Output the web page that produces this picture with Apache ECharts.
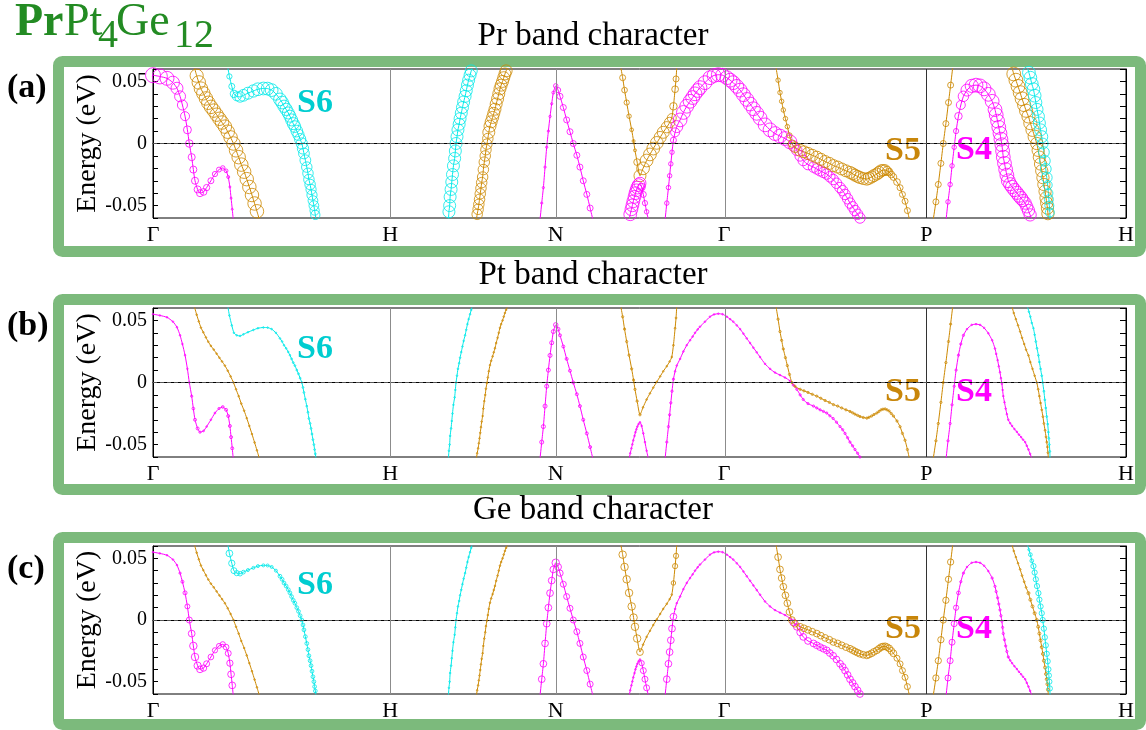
<!DOCTYPE html>
<html>
<head>
<meta charset="utf-8">
<script src="https://cdn.jsdelivr.net/npm/echarts@6.0.0/dist/echarts.min.js"></script>
<style>
  html, body { margin: 0; padding: 0; background: #fff; }
  #chart { width: 1146px; height: 730px; }
</style>
</head>
<body>
<div id="chart"></div>
<script>
// k-path (units of 2pi/a) and labels
const kTicks = [0, 1.0, 1.697, 2.407, 3.259, 4.1];
const kLabels = ['Γ', 'H', 'N', 'Γ', 'P', 'H'];
const panelTitles = ['Pr band character', 'Pt band character', 'Ge band character'];
const panelTags = ['(a)', '(b)', '(c)'];
const yName = 'Energy (eV)';

const MAG = '#ff00ff', GOLD = '#cc8800', CYAN = '#00e8e8';

// bands: [k, E(eV)]
const m1 = [[0,0.055],[0.029,0.054],[0.059,0.0525],[0.084,0.049],[0.101,0.0445],[0.114,0.038],[0.124,0.031],[0.135,0.022],[0.145,0.011],[0.153,0],[0.163,-0.011],[0.170,-0.021],[0.177,-0.030],[0.188,-0.037],[0.198,-0.040],[0.213,-0.039],[0.226,-0.0355],[0.244,-0.030],[0.261,-0.0246],[0.278,-0.021],[0.294,-0.0197],[0.308,-0.022],[0.317,-0.027],[0.324,-0.035],[0.329,-0.044],[0.334,-0.053],[0.338,-0.061]];
const g1 = [[0.174,0.0615],[0.184,0.0546],[0.193,0.0492],[0.202,0.0442],[0.212,0.0404],[0.223,0.0363],[0.233,0.0328],[0.244,0.0295],[0.256,0.0265],[0.268,0.0232],[0.280,0.0199],[0.291,0.0169],[0.303,0.0136],[0.315,0.0095],[0.327,0.0049],[0.339,0],[0.350,-0.0055],[0.361,-0.011],[0.372,-0.017],[0.384,-0.0227],[0.395,-0.0287],[0.406,-0.035],[0.417,-0.0415],[0.428,-0.0483],[0.438,-0.0546],[0.448,-0.061]];
const c1 = [[0.315,0.0615],[0.322,0.054],[0.332,0.046],[0.341,0.040],[0.353,0.038],[0.367,0.0375],[0.381,0.0388],[0.400,0.0405],[0.423,0.0423],[0.442,0.0437],[0.465,0.0443],[0.483,0.0442],[0.500,0.043],[0.518,0.040],[0.535,0.0355],[0.544,0.033],[0.552,0.030],[0.561,0.0275],[0.570,0.0246],[0.577,0.022],[0.584,0.019],[0.591,0.016],[0.598,0.0136],[0.606,0.010],[0.613,0.007],[0.620,0.0035],[0.627,0],[0.632,-0.004],[0.636,-0.008],[0.642,-0.0135],[0.648,-0.019],[0.653,-0.024],[0.657,-0.029],[0.662,-0.033],[0.666,-0.037],[0.670,-0.0415],[0.674,-0.046],[0.678,-0.050],[0.681,-0.054],[0.684,-0.0575],[0.687,-0.061]];
const c2 = [[1.245,-0.061],[1.247,-0.055],[1.250,-0.050],[1.252,-0.043],[1.256,-0.037],[1.259,-0.031],[1.262,-0.025],[1.266,-0.018],[1.271,-0.012],[1.274,-0.006],[1.277,0],[1.281,0.0055],[1.285,0.011],[1.290,0.0155],[1.294,0.020],[1.299,0.0245],[1.304,0.029],[1.309,0.0335],[1.315,0.038],[1.320,0.0425],[1.325,0.047],[1.330,0.051],[1.336,0.055],[1.341,0.0585],[1.346,0.062]];
const g2 = [[1.363,-0.061],[1.366,-0.057],[1.370,-0.053],[1.373,-0.049],[1.376,-0.045],[1.379,-0.0405],[1.382,-0.036],[1.385,-0.0315],[1.389,-0.027],[1.392,-0.021],[1.396,-0.015],[1.400,-0.010],[1.403,-0.005],[1.407,-0.0005],[1.411,0.004],[1.415,0.009],[1.420,0.014],[1.425,0.0175],[1.431,0.021],[1.436,0.0243],[1.441,0.0276],[1.446,0.0318],[1.452,0.036],[1.457,0.040],[1.462,0.044],[1.467,0.047],[1.473,0.050],[1.478,0.053],[1.483,0.056],[1.488,0.0585],[1.494,0.061]];
const m2 = [[1.631,-0.061],[1.638,-0.048],[1.645,-0.0355],[1.652,-0.019],[1.659,-0.003],[1.666,0.010],[1.673,0.0218],[1.680,0.032],[1.687,0.041],[1.697,0.0464],[1.707,0.043],[1.715,0.038],[1.729,0.029],[1.743,0.019],[1.757,0.0095],[1.771,0],[1.786,-0.0095],[1.799,-0.019],[1.813,-0.030],[1.828,-0.041],[1.842,-0.052],[1.853,-0.061]];
const g3 = [[1.971,0.0615],[1.979,0.053],[1.987,0.043],[1.996,0.033],[2.006,0.022],[2.017,0.011],[2.025,0.002],[2.031,-0.0055],[2.040,-0.015],[2.052,-0.026],[2.065,-0.020],[2.080,-0.0137],[2.094,-0.0088],[2.108,-0.0041],[2.123,0.0005],[2.137,0.0049],[2.150,0.009],[2.165,0.0131],[2.177,0.0169],[2.186,0.0205],[2.193,0.030],[2.200,0.0437],[2.204,0.052],[2.207,0.0615]];
const m3 = [[2.007,-0.061],[2.011,-0.057],[2.016,-0.053],[2.020,-0.0498],[2.024,-0.0465],[2.029,-0.043],[2.033,-0.040],[2.037,-0.0377],[2.041,-0.0355],[2.046,-0.0335],[2.052,-0.032],[2.059,-0.035],[2.066,-0.041],[2.073,-0.048],[2.080,-0.055],[2.087,-0.061]];
const m4 = [[2.158,-0.061],[2.165,-0.048],[2.172,-0.0355],[2.177,-0.026],[2.182,-0.0164],[2.187,-0.007],[2.193,0.0027],[2.200,0.009],[2.207,0.0136],[2.221,0.019],[2.235,0.025],[2.249,0.030],[2.263,0.034],[2.274,0.037],[2.284,0.040],[2.295,0.0427],[2.305,0.045],[2.326,0.049],[2.347,0.053],[2.364,0.0548],[2.382,0.0554],[2.400,0.055],[2.418,0.053],[2.432,0.051],[2.445,0.049],[2.460,0.046],[2.474,0.043],[2.488,0.0393],[2.502,0.0355],[2.516,0.0318],[2.530,0.028],[2.544,0.0243],[2.558,0.0205],[2.579,0.015],[2.600,0.011],[2.621,0.008],[2.642,0.006],[2.663,0.004],[2.684,0.0013],[2.698,-0.002],[2.713,-0.0055],[2.727,-0.010],[2.740,-0.0137],[2.760,-0.017],[2.783,-0.019],[2.797,-0.0205],[2.811,-0.022],[2.825,-0.0233],[2.839,-0.0246],[2.852,-0.0268],[2.866,-0.029],[2.880,-0.032],[2.895,-0.0355],[2.906,-0.038],[2.916,-0.041],[2.927,-0.0445],[2.937,-0.048],[2.948,-0.051],[2.958,-0.054],[2.969,-0.057],[2.979,-0.060],[2.986,-0.062]];
const g4 = [[2.625,0.0615],[2.634,0.051],[2.642,0.041],[2.649,0.034],[2.656,0.027],[2.665,0.020],[2.673,0.0136],[2.682,0.0065],[2.692,0],[2.705,-0.003],[2.727,-0.0055],[2.743,-0.0067],[2.760,-0.008],[2.778,-0.0095],[2.797,-0.011],[2.814,-0.0127],[2.832,-0.0145],[2.850,-0.016],[2.867,-0.0178],[2.885,-0.019],[2.902,-0.0205],[2.920,-0.022],[2.937,-0.0233],[2.948,-0.0244],[2.958,-0.0255],[2.969,-0.0265],[2.979,-0.0274],[2.993,-0.0282],[3.008,-0.0287],[3.017,-0.028],[3.028,-0.027],[3.038,-0.0258],[3.050,-0.0246],[3.059,-0.0233],[3.068,-0.022],[3.076,-0.0215],[3.085,-0.0213],[3.093,-0.022],[3.102,-0.023],[3.111,-0.025],[3.120,-0.027],[3.135,-0.031],[3.148,-0.0356],[3.158,-0.041],[3.169,-0.0465],[3.179,-0.054],[3.187,-0.061]];
const g5 = [[3.288,-0.061],[3.299,-0.047],[3.309,-0.033],[3.320,-0.016],[3.330,0],[3.341,0.016],[3.352,0.033],[3.361,0.047],[3.370,0.0615]];
const m5 = [[3.342,-0.061],[3.350,-0.047],[3.359,-0.033],[3.367,-0.018],[3.376,-0.003],[3.384,0.010],[3.394,0.022],[3.404,0.031],[3.415,0.038],[3.430,0.043],[3.450,0.0464],[3.468,0.047],[3.485,0.0464],[3.502,0.044],[3.520,0.0396],[3.536,0.034],[3.548,0.0273],[3.553,0.023],[3.559,0.018],[3.564,0.013],[3.569,0.0082],[3.573,0.0035],[3.577,-0.001],[3.580,-0.006],[3.583,-0.011],[3.588,-0.016],[3.593,-0.021],[3.598,-0.0255],[3.604,-0.030],[3.612,-0.0328],[3.620,-0.035],[3.630,-0.0375],[3.640,-0.0397],[3.649,-0.042],[3.658,-0.044],[3.666,-0.046],[3.675,-0.048],[3.682,-0.051],[3.689,-0.054],[3.696,-0.0575],[3.703,-0.061]];
const g6 = [[3.619,0.0615],[3.627,0.056],[3.636,0.051],[3.645,0.046],[3.654,0.041],[3.662,0.036],[3.671,0.031],[3.679,0.0264],[3.689,0.0218],[3.697,0.0164],[3.706,0.011],[3.715,0.0055],[3.724,0],[3.730,-0.0055],[3.735,-0.011],[3.740,-0.0165],[3.745,-0.022],[3.750,-0.0275],[3.754,-0.033],[3.759,-0.0385],[3.763,-0.0438],[3.766,-0.048],[3.769,-0.052],[3.771,-0.0565],[3.773,-0.061]];
const c3 = [[3.684,0.0615],[3.691,0.057],[3.697,0.053],[3.703,0.048],[3.710,0.0437],[3.715,0.0385],[3.720,0.033],[3.725,0.0275],[3.731,0.0218],[3.735,0.0165],[3.740,0.011],[3.745,0.0055],[3.749,0],[3.754,-0.007],[3.758,-0.014],[3.762,-0.0205],[3.766,-0.0274],[3.770,-0.0335],[3.773,-0.040],[3.775,-0.045],[3.777,-0.050],[3.779,-0.0555],[3.780,-0.061]];

// band character weights (0..1) per point; [n, w] = n points of weight w
// A = Pr, B = Pt, C = Ge
const m1A = [1,1,.93,.87,.8,.73,.67,.6,.53,.5,.47,.47,.47,.47,.47,.45,.42,.4,.35,.33,.3,.25,.2,.13,.13,.13,.13];
const m1B = [[7,.05],.08,.1,.12,.15,.18,.2,.2,.15,.12,.1,.1,.12,.15,.18,[7,.2]];
const m1C = [.07,.07,.07,.07,.1,.15,.2,.27,.33,.4,.45,.5,.5,.48,.45,.42,.4,.38,.35,.33,.35,.38,.4,.42,.45,.45,.45];
const g1A = [.85,.88,[24,.9]];
const g1B = [[26,.05]];
const g1C = [[16,.05],[10,.1]];
const c1A = [.35,.35,.4,.5,.6,.7,.78,.8,.82,[6,.85],.85,.82,.82,.8,.8,.8,.8,.78,.78,.75,.75,.75,.75,.72,.72,.7,.7,.7,.7,.68,.68,.65,.65,.62,.62,.6,.6];
const c1B = [[20,.05],[21,.12]];
const c1C = [.45,.45,.42,.4,.35,.3,.25,[7,.2],[27,.25]];
const c2A = [[25,.8]];
const c2B = [[25,.05]];
const c2C = [[25,.05]];
const g2A = [[15,.7],[16,.8]];
const g2B = [[31,.05]];
const g2C = [[31,.05]];
const m2A = [[8,.15],.2,.3,.35,[11,.4]];
const m2B = [[9,.27],.3,.25,[11,.2]];
const m2C = [[9,.45],.5,.45,.42,[10,.4]];
const g3A = [.4,.4,.38,.35,.3,.25,.2,.2,.45,.8,.85,.85,.85,.85,.85,.8,.8,.75,.7,.6,.5,.45,.4,.4];
const g3B = [[10,.15],[10,.05],[4,.12]];
const g3C = [[9,.5],.45,.1,[8,.07],.1,.3,.35,.35,.35];
const m3A = [[10,.85],.8,.5,.4,.35,.3,.3];
const m3B = [[16,.1]];
const m3C = [[10,.07],.1,.35,.4,.4,.4,.4];
const m4A = [[6,.3],.4,.6,.8,[30,.92],[23,.7]];
const m4B = [[7,.15],[32,.05],[23,.15]];
const m4C = [[7,.45],.1,[31,.07],[23,.45]];
const g4A = [[7,.3],.35,.5,.7,[25,.8],.75,.7,.6,.5,[3,.45],[5,.4]];
const g4B = [[47,.15]];
const g4C = [[41,.45],[6,.4]];
const g5A = [[9,.4]];
const g5B = [[9,.15]];
const g5C = [[9,.42]];
const m5A = [[5,.3],.35,.5,.6,.7,.8,.88,[18,.92],[6,.88],[6,.82]];
const m5B = [[9,.15],[32,.05]];
const m5C = [[5,.4],.35,.25,[2,.15],[6,.07],[14,.15],[12,.07]];
const g6A = [[6,.92],[6,.88],[13,.82]];
const g6B = [[13,.05],[12,.12]];
const g6C = [[4,.05],[4,.12],[17,.2]];
const c3A = [[6,.85],[6,.8],[5,.72],[6,.6]];
const c3B = [[6,.05],[17,.12]];
const c3C = [[2,.15],[2,.25],[19,.35]];

const bands = [
  [m1, MAG, [m1A, m1B, m1C]], [g1, GOLD, [g1A, g1B, g1C]], [c1, CYAN, [c1A, c1B, c1C]],
  [c2, CYAN, [c2A, c2B, c2C]], [g2, GOLD, [g2A, g2B, g2C]], [m2, MAG, [m2A, m2B, m2C]],
  [g3, GOLD, [g3A, g3B, g3C]], [m3, MAG, [m3A, m3B, m3C]], [m4, MAG, [m4A, m4B, m4C]],
  [g4, GOLD, [g4A, g4B, g4C]], [g5, GOLD, [g5A, g5B, g5C]], [m5, MAG, [m5A, m5B, m5C]],
  [g6, GOLD, [g6A, g6B, g6C]], [c3, CYAN, [c3A, c3B, c3C]]
];

function expand(list) {
  const out = [];
  list.forEach(function (r) {
    if (Array.isArray(r)) { for (let i = 0; i < r[0]; i++) out.push(r[1]); }
    else out.push(r);
  });
  return out;
}

const SERIF = '"Liberation Serif", "Times New Roman", serif';
const gridTops = [69, 308, 546];
const gridHeights = [149, 149, 148];

const chart = echarts.init(document.getElementById('chart'), null, { renderer: 'canvas' });

const grids = [], xAxes = [], yAxes = [], series = [];

function yLabel(v) {
  if (Math.abs(v - 0.05) < 1e-6) return '0.05';
  if (Math.abs(v) < 1e-6) return '0';
  if (Math.abs(v + 0.05) < 1e-6) return '-0.05';
  return '';
}

for (let p = 0; p < 3; p++) {
  grids.push({
    left: 153, right: 20, top: gridTops[p], height: gridHeights[p],
    show: true, borderColor: '#000', borderWidth: 1, backgroundColor: 'transparent',
    outerBoundsMode: 'none'
  });
  xAxes.push({
    gridIndex: p, type: 'value', min: 0, max: 4.1,
    axisLine: { show: true, lineStyle: { color: '#000' } },
    axisTick: { show: false },
    splitLine: { show: false },
    axisLabel: {
      customValues: kTicks,
      formatter: function (v) {
        let best = 0;
        for (let i = 1; i < kTicks.length; i++) {
          if (Math.abs(kTicks[i] - v) < Math.abs(kTicks[best] - v)) best = i;
        }
        return kLabels[best];
      },
      fontFamily: SERIF, fontSize: 22, color: '#000', margin: 6
    }
  });
  yAxes.push({
    gridIndex: p, type: 'value', min: -0.06, max: 0.06, interval: 0.01, position: 'left',
    axisLine: { show: true, lineStyle: { color: '#000' } },
    axisTick: { inside: true, length: 5, lineStyle: { color: '#000' } },
    axisLabel: { formatter: yLabel, fontFamily: SERIF, fontSize: 20, color: '#000', margin: 6 },
    splitLine: { show: false }
  });
  yAxes.push({
    gridIndex: p, type: 'value', min: -0.06, max: 0.06, interval: 0.01, position: 'right',
    axisLine: { show: true, lineStyle: { color: '#000' } },
    axisTick: { inside: true, length: 6, lineStyle: { color: '#000' } },
    axisLabel: { show: false },
    splitLine: { show: false }
  });

  // high-symmetry lines and Fermi level
  const vLines = kTicks.slice(1, 5).map((k, i) => ({
    xAxis: k, lineStyle: { color: i === 3 ? '#333' : '#8c8c8c', type: 'solid', width: 1 }
  }));
  series.push({
    type: 'line', xAxisIndex: p, yAxisIndex: 2 * p, data: [], silent: true, z: 1,
    markLine: {
      silent: true, symbol: ['none', 'none'], label: { show: false }, animation: false,
      data: vLines.concat([{ yAxis: 0, lineStyle: { color: '#555', type: [4, 3], width: 1 } }])
    }
  });

  bands.forEach(function (b) {
    const pts = b[0], color = b[1], w = expand(b[2][p]);
    series.push({
      type: 'line', xAxisIndex: p, yAxisIndex: 2 * p,
      data: pts.map((q, i) => [q[0], q[1], w[Math.min(i, w.length - 1)]]),
      smooth: 0.2, showAllSymbol: true, symbol: 'circle',
      symbolSize: v => Math.max(1.6, 15 * v[2]),
      lineStyle: { color: color, width: 1 },
      itemStyle: { color: 'rgba(0,0,0,0)', borderColor: color, borderWidth: 0.8 },
      silent: true, z: 3, clip: true
    });
  });
}

const FRAME = '#7cba7c';
const frameRects = [[58.5, 61.5, 1082, 190], [58.5, 299.5, 1082, 190], [58.5, 537.5, 1082, 187]];
const titleY = [36, 275, 510];
const tagY = [88, 326, 569];
const sRowY = [[103, 151, 150], [349, 392, 392], [585, 629, 629]];

const graphics = [];
frameRects.forEach(function (r) {
  graphics.push({ type: 'rect', z: -1, silent: true,
    shape: { x: r[0], y: r[1], width: r[2], height: r[3], r: 4 },
    style: { fill: 'none', stroke: FRAME, lineWidth: 11 } });
});
for (let p = 0; p < 3; p++) {
  graphics.push({ type: 'text', x: 593, y: titleY[p], silent: true,
    style: { text: panelTitles[p], font: '33px ' + SERIF, fill: '#000', align: 'center', verticalAlign: 'middle' } });
  graphics.push({ type: 'text', x: 7, y: tagY[p], silent: true,
    style: { text: panelTags[p], font: 'bold 34px ' + SERIF, fill: '#000', align: 'left', verticalAlign: 'middle' } });
  // y-axis title, rotated
  graphics.push({ type: 'text', x: 88, y: gridTops[p] + gridHeights[p] / 2, rotation: Math.PI / 2, silent: true,
    style: { text: yName, font: '28px ' + SERIF, fill: '#000', align: 'center', verticalAlign: 'middle' } });
  graphics.push({ type: 'text', x: 315, y: sRowY[p][0], silent: true,
    style: { text: 'S6', font: 'bold 34px ' + SERIF, fill: '#00cdd0', align: 'center', verticalAlign: 'middle' } });
  graphics.push({ type: 'text', x: 903, y: sRowY[p][1], silent: true,
    style: { text: 'S5', font: 'bold 34px ' + SERIF, fill: '#c8860a', align: 'center', verticalAlign: 'middle' } });
  graphics.push({ type: 'text', x: 974, y: sRowY[p][2], silent: true,
    style: { text: 'S4', font: 'bold 34px ' + SERIF, fill: '#ff00ff', align: 'center', verticalAlign: 'middle' } });
}
// compound title PrPt4Ge12
const TG = '#238b23';
[['Pr', 15, 23, 'bold 46px '], ['Pt', 64, 23, '46px '], ['4', 98, 36, '40px '], ['Ge', 116, 23, '46px '], ['12', 174, 36, '40px ']]
  .forEach(function (t) {
    graphics.push({ type: 'text', x: t[1], y: t[2], silent: true,
      style: { text: t[0], font: t[3] + SERIF, fill: TG, align: 'left', verticalAlign: 'middle' } });
  });

chart.setOption({
  animation: false,
  backgroundColor: '#fff',
  grid: grids,
  xAxis: xAxes,
  yAxis: yAxes,
  series: series,
  graphic: { elements: graphics }
});
</script>
</body>
</html>
